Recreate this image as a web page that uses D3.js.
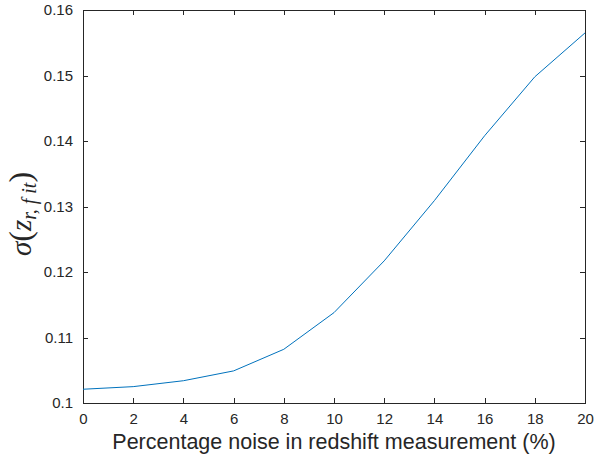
<!DOCTYPE html>
<html>
<head>
<meta charset="utf-8">
<script src="https://cdn.jsdelivr.net/npm/d3@7"></script>
<style>
  body { margin: 0; background: #fff; }
  text { font-family: "Liberation Sans", Arial, sans-serif; fill: #262626; }
</style>
</head>
<body>
<script>
var noise = [0, 2, 4, 6, 8, 10, 12, 14, 16, 18, 20];
var sigma = [0.1021, 0.1025, 0.1034, 0.1049, 0.1082, 0.1138, 0.1217, 0.1309, 0.1408, 0.1498, 0.1565];
var xTicks = [0, 2, 4, 6, 8, 10, 12, 14, 16, 18, 20];
var yTicks = [0.1, 0.11, 0.12, 0.13, 0.14, 0.15, 0.16];

var w = 603;
var h = 459;
var mLeft = 83, mRight = 585, mTop = 10, mBottom = 403;

var svg = d3.select('body')
  .append('svg')
  .attr('width', w)
  .attr('height', h);

var xScale = d3.scaleLinear().domain([0, 20]).range([mLeft, mRight]);
var yScale = d3.scaleLinear().domain([0.1, 0.16]).range([mBottom, mTop]);

// box
svg.append('rect')
  .attr('x', mLeft).attr('y', mTop)
  .attr('width', mRight - mLeft).attr('height', mBottom - mTop)
  .attr('fill', 'none').attr('stroke', '#262626').attr('stroke-width', 1)
  .attr('shape-rendering', 'crispEdges');

var xAxis = d3.axisBottom(xScale).tickValues(xTicks).tickSize(-5).tickPadding(10).tickFormat(d3.format('d'));
var yAxis = d3.axisLeft(yScale).tickValues(yTicks).tickSize(-5).tickPadding(10).tickFormat(d => String(+d.toFixed(2)));
var xTop = d3.axisTop(xScale).tickValues(xTicks).tickSize(-5).tickFormat('');
var yRight = d3.axisRight(yScale).tickValues(yTicks).tickSize(-5).tickFormat('');

function styleAxis(g) {
  g.select('.domain').remove();
  g.selectAll('line').attr('stroke', '#262626').attr('shape-rendering', 'crispEdges');
  g.selectAll('text').attr('font-size', 15).attr('fill', '#262626');
}

svg.append('g').attr('transform', 'translate(0,' + mBottom + ')').call(xAxis).call(styleAxis);
svg.append('g').attr('transform', 'translate(' + mLeft + ',0)').call(yAxis).call(styleAxis);
svg.append('g').attr('transform', 'translate(0,' + mTop + ')').call(xTop).call(styleAxis);
svg.append('g').attr('transform', 'translate(' + mRight + ',0)').call(yRight).call(styleAxis);

var line = d3.line()
  .x((d, i) => xScale(noise[i]))
  .y(d => yScale(d));

svg.append('path')
  .datum(sigma)
  .attr('d', line)
  .attr('fill', 'none')
  .attr('stroke', '#0072BD')
  .attr('stroke-width', 1);

// x label
svg.append('text')
  .attr('x', (mLeft + mRight) / 2)
  .attr('y', 449)
  .attr('text-anchor', 'middle')
  .attr('font-size', 21.5)
  .text('Percentage noise in redshift measurement (%)');

// y label, latex-like
var yl = svg.append('text')
  .attr('transform', 'translate(31,214) rotate(-90)')
  .attr('text-anchor', 'middle')
  .style('font-family', '"Liberation Serif", "DejaVu Serif", serif')
  .attr('font-size', 29);
yl.append('tspan').attr('font-style', 'italic').text('σ');
yl.append('tspan').attr('font-size', 32).text('(');
yl.append('tspan').attr('font-style', 'italic').text('z');
yl.append('tspan').attr('font-style', 'italic').attr('font-size', 20).attr('dy', 5).text('r, f it');
yl.append('tspan').attr('font-size', 32).attr('dy', -5).text(')');
</script>
</body>
</html>
